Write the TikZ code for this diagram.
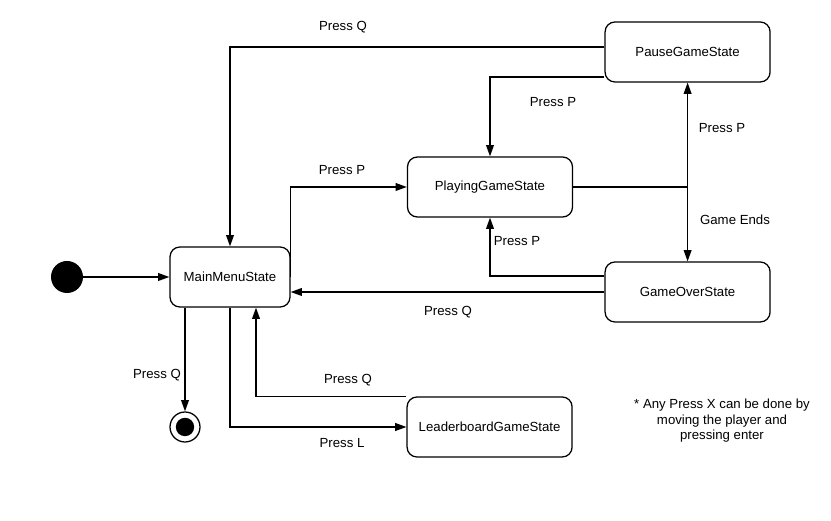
\documentclass[tikz,border=0pt]{standalone}
\usepackage{fontspec}
\setmainfont{Liberation Sans}
\usetikzlibrary{arrows.meta,positioning,calc}
\definecolor{ink}{HTML}{000000}
\tikzset{
  state/.style={draw=ink, rounded corners=7pt, line width=0.9pt, fill=white, align=center, minimum width=41.25mm, minimum height=15mm, font=\fontsize{9.4}{11}\selectfont},
  startdot/.style={circle, fill=ink, minimum size=8mm, inner sep=0pt},
  enddot/.style={circle, draw=ink, line width=0.9pt, fill=white, minimum size=7.5mm, inner sep=0pt, path picture={\fill[ink] (path picture bounding box.center) circle (2.3mm);}},
  label/.style={font=\fontsize{9.4}{11}\selectfont, text=ink, align=center},
  arrow/.style={-{Triangle[length=8pt,width=5.5pt]}, line width=1pt, draw=ink},
  line/.style={line width=1pt, draw=ink}
}
\begin{document}
\begin{tikzpicture}
\useasboundingbox (0,0) rectangle (20.775,13.025);
\node[startdot] (init) at (1.675,6.1) {};
\node[state, minimum width=30mm] (menu) at (5.75,6.1) {MainMenuState};
\node[state] (play) at (12.25,8.35) {PlayingGameState};
\node[state] (pause) at (17.19,11.725) {PauseGameState};
\node[state] (over) at (17.19,5.725) {GameOverState};
\node[state] (board) at (12.24,2.35) {LeaderboardGameState};
\node[enddot] (final) at (4.625,2.35) {};
\coordinate (split) at (17.19,8.35);
\draw[arrow] (init) -- (menu);
\draw[arrow] ([yshift=0.125cm]pause.west) -| (menu.north);
\draw[arrow] ([yshift=-0.625cm]pause.west) -| (play.north);
\draw[arrow] (menu.east) |- (play.west);
\draw[line] (play.east) -- (split);
\draw[arrow] (split) -- (pause.south);
\draw[arrow] (split) -- (over.north);
\draw[arrow] ([yshift=0.4cm]over.west) -| (play.south);
\draw[arrow] (over.west) -- (over.west -| menu.east);
\draw[arrow] (final.north |- menu.south) -- (final);
\draw[arrow] (menu.south) |- (board.west);
\draw[arrow] (board.north west) -| ([xshift=0.65cm]menu.south);
\node[label] at (8.575,12.35) {Press Q};
\node[label] at (13.825,10.475) {Press P};
\node[label] at (8.55,8.775) {Press P};
\node[label] at (18.05,9.825) {Press P};
\node[label] at (18.375,7.525) {Game Ends};
\node[label] at (12.925,7.0) {Press P};
\node[label] at (11.2,5.225) {Press Q};
\node[label] at (3.925,3.65) {Press Q};
\node[label] at (8.7,3.525) {Press Q};
\node[label] at (8.55,1.95) {Press L};
\node[label] (note) at (18.05,2.5) {* Any Press X can be done by\\moving the player and\\pressing enter};
\end{tikzpicture}
\end{document}
